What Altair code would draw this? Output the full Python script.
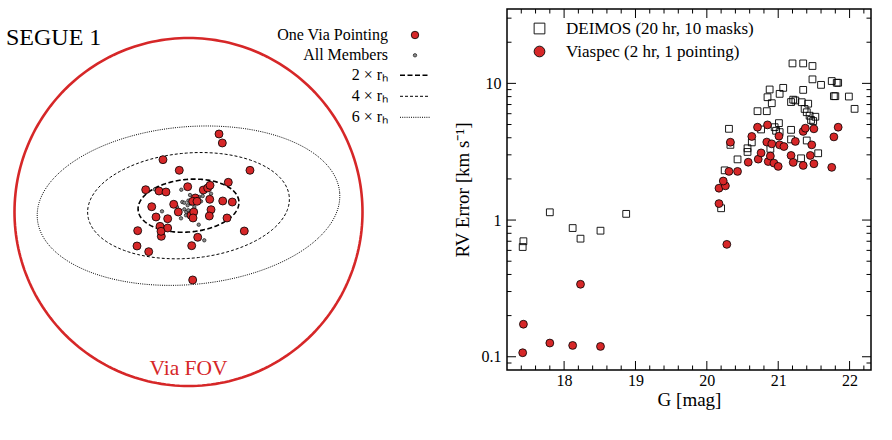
import math
import altair as alt
import pandas as pd

RED = "#d62728"
FONT = "Liberation Serif"

# ---------------- right panel data ----------------
deimos_g = [17.42, 17.43, 17.80, 18.12, 18.23, 18.51, 18.87,
            20.20, 20.25, 20.31, 20.33, 20.43, 20.57, 20.57, 20.63,
            20.71, 20.76, 20.84, 20.85, 20.88, 20.91, 20.95, 20.97,
            21.01, 21.02, 21.02, 21.07, 20.89,
            21.18, 21.21, 21.24, 21.20, 21.35, 21.48, 21.48, 21.60,
            21.35, 21.33, 21.42, 21.37, 21.40, 21.44, 21.46, 21.49, 21.52, 21.56,
            21.18, 21.18, 21.40, 21.32,
            21.75, 21.82, 21.84, 21.78, 21.80, 21.99, 22.07]
deimos_err = [0.635, 0.70, 1.14, 0.874, 0.731, 0.836, 1.11,
              1.22, 2.31, 4.65, 3.55, 2.78, 3.35, 3.15, 3.70,
              6.26, 4.60, 6.26, 7.92, 9.02, 7.16, 4.78, 4.50,
              5.12, 4.40, 8.38, 9.27, 3.32,
              7.30, 7.60, 7.50, 14.0, 14.0, 13.4, 10.7, 9.75,
              8.96, 7.28, 7.10, 6.50, 6.15, 5.80, 5.40, 5.30, 5.70, 3.08,
              4.57, 3.89, 3.82, 2.83,
              10.4, 10.1, 10.1, 8.06, 8.06, 8.01, 6.51]

via_g = [17.42, 17.43, 17.80, 18.12, 18.51, 18.23,
         20.28, 20.17, 20.17, 20.26, 20.23, 20.31, 20.43, 20.33,
         20.58, 20.63, 20.71, 20.72, 20.76, 20.85, 20.84, 20.86, 20.89, 20.91, 20.94,
         21.00, 21.01, 21.02, 21.08, 21.18, 21.21, 21.24,
         21.35, 21.35, 21.38, 21.45, 21.47, 21.50, 21.50,
         21.75, 21.78, 21.84]
via_err = [0.107, 0.173, 0.126, 0.121, 0.119, 0.339,
           0.664, 1.32, 1.71, 1.78, 1.93, 2.27, 2.27, 3.71,
           2.65, 4.09, 4.78, 2.79, 3.10, 4.97, 3.72, 2.68, 2.94, 3.61, 2.61,
           2.47, 4.11, 3.55, 3.45, 2.97, 2.64, 3.76,
           2.51, 4.45, 4.70, 2.97, 3.55, 4.65, 2.58,
           2.43, 4.06, 4.78]

series_names = ["DEIMOS (20 hr, 10 masks)", "Viaspec (2 hr, 1 pointing)"]

x_major = [18, 19, 20, 21, 22]
x_minor = [17.4, 17.6, 17.8, 18.2, 18.4, 18.6, 18.8, 19.2, 19.4, 19.6, 19.8,
           20.2, 20.4, 20.6, 20.8, 21.2, 21.4, 21.6, 21.8, 22.2]
y_major = [0.1, 1, 10]
y_minor = [0.09, 0.2, 0.3, 0.4, 0.5, 0.6, 0.7, 0.8, 0.9,
           2, 3, 4, 5, 6, 7, 8, 9, 20, 30]

# ---------------- left panel data (arcmin offsets) ----------------
via_dx = [5.26, 5.83, -4.40, -1.59, 10.60, 6.86, -7.38, -5.09, -3.88, -0.14,
          2.55, 3.31, 3.71, -6.34, -2.55, -1.76, 1.17, 0.72, 1.47, 3.66,
          5.90, 7.55, 3.88, -5.60, -3.59, 0.43, 0.90, 0.78, 3.59, 6.64,
          -4.91, -3.59, -4.69, -4.74, -8.76, 1.59, 9.62, -8.88, 0.55, -6.86,
          0.72]
via_dy = [13.45, 11.90, 9.02, 7.19, 7.19, 5.12, 3.84, 3.62, 3.45, 4.36,
          3.79, 4.14, 4.60, 0.91, 1.33, 0.00, 2.41, 1.84, 1.84, 2.19,
          1.90, 1.72, 0.40, -0.86, -1.16, -0.57, 0.00, -1.03, -0.69, -1.03,
          -2.47, -2.76, -4.19, -3.33, -3.22, -4.36, -3.28, -5.86, -5.81, -6.84,
          -11.72]
mem_dx = [-1.24, -5.78, -4.57, -1.07, -0.72, -0.03, 0.43, 1.17, 1.86, 2.45,
          2.16, 3.88, -0.14, -0.72, -0.38, -0.03, 1.00, -1.29, -0.43, 1.76,
          2.72, -1.98, 0.26]
mem_dy = [3.84, 3.91, 0.12, 1.72, 1.60, 1.95, 1.43, 2.29, 2.59, 2.76,
          1.84, 3.16, 1.16, 0.47, 0.00, 0.29, 0.86, -1.09, -0.57, -2.19,
          -4.88, 0.86, 2.93]

FOV_R = 30.0          # arcmin, Via field-of-view radius
R_HALF = 4.36         # arcmin, half-light radius (semi-major)
ELLIP = 0.48
PA_ROT = 5.0          # degrees from the x axis
CENTER = (0.0, 1.09)
ell_mult = [2, 4, 6]
ell_labels = ["2 × rₕ", "4 × rₕ", "6 × rₕ"]
ell_dash = [[5, 2.5], [3, 2], [1, 1.2]]
ell_width = [1.6, 1.0, 1.0]

# ---------------- left panel ----------------
S = 5.8               # px per arcmin
LW, LH = 432, 420
xmin = -187.5 / S
xmax = xmin + LW / S
ymax = 203.0 / S
ymin = ymax - LH / S
xs = alt.Scale(domain=[xmin, xmax], nice=False, zero=False)
ys = alt.Scale(domain=[ymin, ymax], nice=False, zero=False)

N = 240
circ_df = pd.DataFrame({
    "i": list(range(N + 1)),
    "x": [FOV_R * math.cos(2 * math.pi * k / N) for k in range(N + 1)],
    "y": [FOV_R * math.sin(2 * math.pi * k / N) for k in range(N + 1)],
})

th = math.radians(PA_ROT)
layers_left = [
    alt.Chart(circ_df).mark_line(color=RED, strokeWidth=2.6).encode(
        x=alt.X("x:Q", scale=xs, axis=None),
        y=alt.Y("y:Q", scale=ys, axis=None),
        order="i:Q")
]
for m, dash, w in zip(ell_mult, ell_dash, ell_width):
    a = m * R_HALF
    b = a * (1 - ELLIP)
    rows = []
    for k in range(N + 1):
        t = 2 * math.pi * k / N
        xx, yy = a * math.cos(t), b * math.sin(t)
        rows.append({"i": k,
                     "x": CENTER[0] + xx * math.cos(th) - yy * math.sin(th),
                     "y": CENTER[1] + xx * math.sin(th) + yy * math.cos(th)})
    layers_left.append(
        alt.Chart(pd.DataFrame(rows)).mark_line(
            color="black", strokeWidth=w, strokeDash=dash).encode(
            x=alt.X("x:Q", scale=xs, axis=None),
            y=alt.Y("y:Q", scale=ys, axis=None),
            order="i:Q"))

mem_df = pd.DataFrame({"x": mem_dx, "y": mem_dy})
via_df = pd.DataFrame({"x": via_dx, "y": via_dy})
layers_left.append(
    alt.Chart(mem_df).mark_point(shape="circle", filled=True, fill="#8a8a8a",
                                 stroke="black", strokeWidth=0.6, size=12, opacity=1).encode(
        x=alt.X("x:Q", scale=xs, axis=None), y=alt.Y("y:Q", scale=ys, axis=None)))
layers_left.append(
    alt.Chart(via_df).mark_point(shape="circle", filled=True, fill=RED,
                                 stroke="black", strokeWidth=0.8, size=64, opacity=1).encode(
        x=alt.X("x:Q", scale=xs, axis=None), y=alt.Y("y:Q", scale=ys, axis=None)))

# labels
fov_df = pd.DataFrame({"x": [0.0], "y": [-0.9 * FOV_R], "t": ["Via FOV"]})
layers_left.append(
    alt.Chart(fov_df).mark_text(font=FONT, fontSize=21.5, color=RED, baseline="middle").encode(
        x=alt.X("x:Q", scale=xs, axis=None), y=alt.Y("y:Q", scale=ys, axis=None), text="t:N"))
layers_left.append(
    alt.Chart(pd.DataFrame({"t": ["SEGUE 1"]})).mark_text(
        font=FONT, fontSize=24, align="left", baseline="middle", color="black").encode(
        x=alt.value(5), y=alt.value(29), text="t:N"))

# custom legend of the left panel
leg_labels = ["One Via Pointing", "All Members"] + ell_labels
leg_y = [26, 46.3, 66.3, 87.3, 108.3]
for lab, yy in zip(leg_labels, leg_y):
    layers_left.append(
        alt.Chart(pd.DataFrame({"t": [lab]})).mark_text(
            font=FONT, fontSize=16, align="right", baseline="middle", color="black").encode(
            x=alt.value(387), y=alt.value(yy), text="t:N"))
layers_left.append(
    alt.Chart(pd.DataFrame({"k": [0]})).mark_point(
        shape="circle", filled=True, fill=RED, stroke="black", strokeWidth=0.8,
        size=56, opacity=1).encode(x=alt.value(414), y=alt.value(leg_y[0])))
layers_left.append(
    alt.Chart(pd.DataFrame({"k": [0]})).mark_point(
        shape="circle", filled=True, fill="#8a8a8a", stroke="black", strokeWidth=0.6,
        size=12, opacity=1).encode(x=alt.value(414), y=alt.value(leg_y[1])))
for yy, dash, w in zip(leg_y[2:], ell_dash, ell_width):
    layers_left.append(
        alt.Chart(pd.DataFrame({"k": [0]})).mark_rule(
            color="black", strokeWidth=w, strokeDash=dash).encode(
            x=alt.value(399), x2=alt.value(429), y=alt.value(yy)))

left = alt.layer(*layers_left).properties(width=LW, height=LH)

# ---------------- right panel ----------------
RW, RH = 364, 361
xr = alt.Scale(domain=[17.2, 22.3], nice=False, zero=False)
yr = alt.Scale(type="log", domain=[0.08, 35], nice=False)
xaxis = alt.Axis(values=x_major, ticks=False, domain=False, grid=False,
                 labelFontSize=16, labelPadding=2, titleFontSize=19,
                 titlePadding=2, title="G [mag]")
yaxis = alt.Axis(values=y_major, format="~g", ticks=False, domain=False, grid=False,
                 labelFontSize=16, labelPadding=6, titleFontSize=19,
                 titlePadding=9, minExtent=26, maxExtent=26,
                 title="RV Error [km s⁻¹]")
X = lambda f: alt.X(f, scale=xr, axis=xaxis, title="G [mag]")
Y = lambda f: alt.Y(f, scale=yr, axis=yaxis, title="RV Error [km s⁻¹]")

shape_scale = alt.Scale(domain=series_names, range=["square", "circle"])
fill_scale = alt.Scale(domain=series_names, range=["transparent", RED])
stroke_scale = alt.Scale(domain=series_names, range=["black", "black"])
leg = alt.Legend(title=None, orient="none", legendX=530, legendY=11,
                 symbolSize=115, symbolStrokeWidth=0.9,
                 labelFont=FONT, labelFontSize=17, labelOffset=18, rowPadding=5,
                 labelLimit=400, padding=0, labelColor="black")

d_df = pd.DataFrame({"g": deimos_g, "e": deimos_err, "s": series_names[0]})
v_df = pd.DataFrame({"g": via_g, "e": via_err, "s": series_names[1]})

def point_layer(df_, size, sw):
    return alt.Chart(df_).mark_point(size=size, strokeWidth=sw, opacity=1).encode(
        x=X("g:Q"), y=Y("e:Q"),
        shape=alt.Shape("s:N", scale=shape_scale, legend=leg),
        fill=alt.Fill("s:N", scale=fill_scale, legend=leg),
        stroke=alt.Stroke("s:N", scale=stroke_scale, legend=leg))

pts_d = point_layer(d_df, 46, 0.9)
pts_v = point_layer(v_df, 62, 0.8)

xmaj_df = pd.DataFrame({"v": x_major})
xmin_df = pd.DataFrame({"v": x_minor})
ymaj_df = pd.DataFrame({"v": y_major})
ymin_df = pd.DataFrame({"v": y_minor})
MAJ, MIN = 9, 4.5
ticks = []
for df_, L in ((xmaj_df, MAJ), (xmin_df, MIN)):
    ticks.append(alt.Chart(df_).mark_rule(color="black", strokeWidth=1).encode(
        x=X("v:Q"), y=alt.value(RH), y2=alt.value(RH - L)))
    ticks.append(alt.Chart(df_).mark_rule(color="black", strokeWidth=1).encode(
        x=X("v:Q"), y=alt.value(0), y2=alt.value(L)))
for df_, L in ((ymaj_df, MAJ), (ymin_df, MIN)):
    ticks.append(alt.Chart(df_).mark_rule(color="black", strokeWidth=1).encode(
        y=Y("v:Q"), x=alt.value(0), x2=alt.value(L)))
    ticks.append(alt.Chart(df_).mark_rule(color="black", strokeWidth=1).encode(
        y=Y("v:Q"), x=alt.value(RW), x2=alt.value(RW - L)))

right = alt.layer(pts_d, pts_v, *ticks).properties(
    width=RW, height=RH,
    view=alt.ViewBackground(stroke="black", strokeWidth=1.5))

chart = alt.hconcat(left, right, spacing=18).properties(
    padding={"left": 0, "top": 7, "right": 0, "bottom": 0},
    background="white",
).configure(font=FONT).configure_view(stroke="transparent").configure_axis(
    labelFont=FONT, titleFont=FONT, labelColor="black", titleColor="black",
    titleFontWeight="normal")

chart.save("out.html", embed_options={"renderer": "svg", "actions": False})
